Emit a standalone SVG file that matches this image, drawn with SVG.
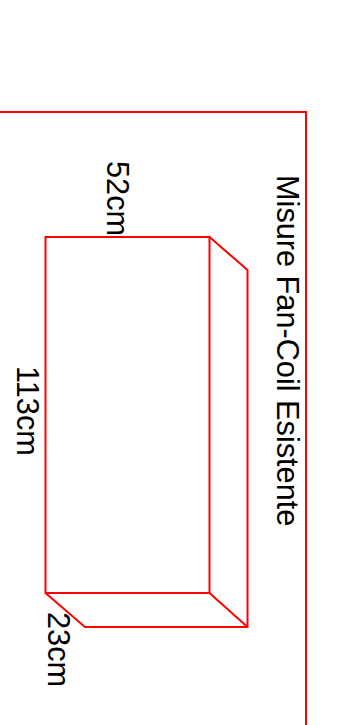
<svg xmlns="http://www.w3.org/2000/svg" width="338" height="725" viewBox="0 0 338 725">
<style>
.l{fill:none;stroke:#ff0000;stroke-width:2}
.t{font-family:"Liberation Sans",Arial,sans-serif;font-size:30.7px;fill:#000}
</style>
<rect width="338" height="725" fill="#fff"/>
<g id="frame"><path class="l" d="M0 112H306V725"/></g>
<g id="box">
<path class="l" d="M45.500 237H209.500V593H45.500Z"/>
<path class="l" d="M209.500 237L247.500 270V627H85L45.500 593M209.500 593L247.500 627"/>
</g>
<text class="t" transform="translate(277 175) rotate(90)">Misure Fan-Coil Esistente</text>
<text class="t" transform="translate(106.500 161) rotate(90)">52cm</text>
<text class="t" transform="translate(17 366) rotate(90)">113cm</text>
<text class="t" transform="translate(48 612) rotate(90)">23cm</text>
</svg>
